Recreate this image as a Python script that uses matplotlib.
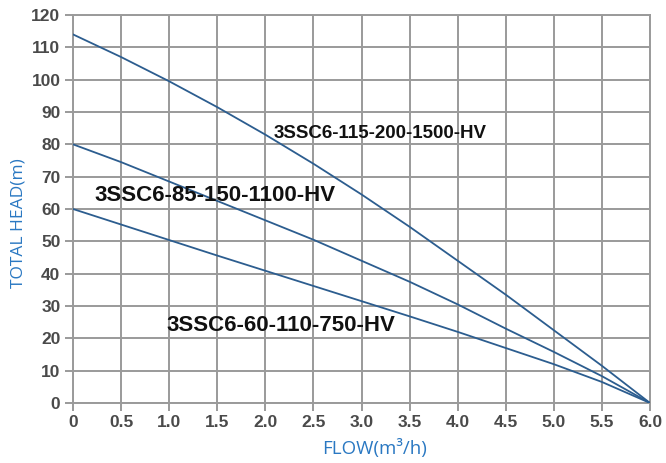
import numpy as np
import matplotlib.pyplot as plt

# ---------- Data ----------
flow = [0.0, 0.5, 1.0, 1.5, 2.0, 2.5, 3.0, 3.5, 4.0, 4.5, 5.0, 5.5, 6.0]
head_115 = [114, 107, 99.5, 91.5, 83, 74, 64.5, 54.5, 44, 33.5, 22.5, 11.5, 0]
head_85 = [80, 74.5, 68.5, 62.5, 56.5, 50.5, 44, 37.5, 30.5, 23, 15.8, 8.3, 0]
head_60 = [60, 55.2, 50.4, 45.6, 40.9, 36.2, 31.5, 26.8, 22, 17, 12, 6.5, 0]

labels = ["3SSC6-115-200-1500-HV", "3SSC6-85-150-1100-HV", "3SSC6-60-110-750-HV"]
label_pos = [(3.19, 83.5), (1.48, 64.3), (2.16, 24.1)]
label_size = [13.5, 16, 16]

xticks = np.arange(0, 6.01, 0.5)
yticks = np.arange(0, 121, 10)

# ---------- Plotting ----------
plt.rcParams['font.family'] = ['Liberation Sans', 'DejaVu Sans']

fig = plt.figure(figsize=(6.66, 4.63), dpi=100)
ax = fig.add_axes([0.1096, 0.1296, 0.8664, 0.838])

line_color = "#2c5d8f"
grid_color = "#9a9a9a"

for heads in (head_115, head_85, head_60):
    ax.plot(flow, heads, color=line_color, lw=1.3, zorder=3)

for text, (x, y), fs in zip(labels, label_pos, label_size):
    ax.text(x, y, text, ha="center", va="center", fontsize=fs,
            fontweight="bold", color="#111111", zorder=4)

ax.set_xlim(0, 6)
ax.set_ylim(0, 120)
ax.set_xticks(xticks)
ax.set_xticklabels([f"{v:.1f}" if v > 0 else "0" for v in xticks])
ax.set_yticks(yticks)

ax.grid(True, color=grid_color, lw=1.4, zorder=1)
for s in ax.spines.values():
    s.set_color(grid_color)
    s.set_linewidth(1.4)

ax.tick_params(axis="both", length=6, width=1.4, color=grid_color,
               labelsize=12.5, labelcolor="#4a4a4a", pad=3)
for lab in ax.get_xticklabels() + ax.get_yticklabels():
    lab.set_fontweight("bold")

ax.set_xlabel("FLOW(m³/h)", fontsize=13.5, color="#2a78c2",
              family=["Open Sans", "DejaVu Sans"])
ax.set_ylabel("TOTAL HEAD(m)", fontsize=12.5, color="#2a78c2",
              family=["Open Sans", "DejaVu Sans"])
ax.xaxis.set_label_coords(0.522, -0.092)
ax.yaxis.set_label_coords(-0.08, 0.463)

fig.savefig("out.png", dpi=100)
